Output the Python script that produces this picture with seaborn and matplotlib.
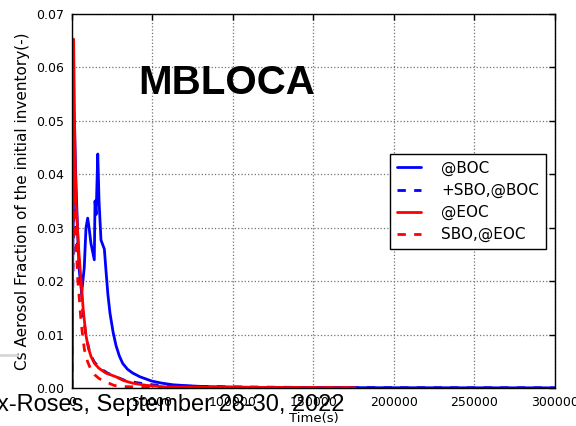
import matplotlib
matplotlib.use("Agg")
import matplotlib.pyplot as plt
from matplotlib.lines import Line2D
import seaborn as sns
import pandas as pd

# Time (s) and Cs aerosol fraction for each case
t_boc = [0, 300, 1500, 2300, 3400, 4500, 6000, 7600, 8700, 9750, 10600, 11800,
         13850, 14300, 15000, 16000, 16800, 18000, 20100, 21100, 22300, 23600,
         25500, 27300, 29400, 31500, 34500, 37700, 42200, 49500, 56000, 62700,
         73000, 83700, 120000, 200000, 300000]
v_boc = [0.0, 0.020, 0.050, 0.040, 0.030, 0.022, 0.0178, 0.0225, 0.030, 0.0318,
         0.030, 0.027, 0.024, 0.035, 0.0325, 0.0438, 0.035, 0.0277, 0.026, 0.022,
         0.0175, 0.0140, 0.0105, 0.0080, 0.0060, 0.0046, 0.0035, 0.0028, 0.0021,
         0.0013, 0.0009, 0.0006, 0.0004, 0.00025, 0.0001, 0.00005, 0.00003]

t_sbo_boc = [0, 300, 1200, 2500, 3700, 5000, 6800, 8700, 11200, 14000, 17400,
             22000, 27300, 33000, 40000, 50000, 60000, 80000, 100000, 150000,
             200000, 300000]
v_sbo_boc = [0.0, 0.015, 0.037, 0.030, 0.026, 0.022, 0.0140, 0.0097, 0.0064,
             0.0048, 0.0037, 0.0028, 0.0021, 0.0014, 0.0010, 0.0006, 0.0004,
             0.0003, 0.0002, 0.0001, 0.00005, 0.00003]

t_eoc = [0, 300, 1000, 1800, 2500, 3700, 4600, 5600, 7000, 8700, 10200, 11800,
         14000, 16700, 21000, 27300, 32000, 37700, 46000, 58400, 80000, 120000,
         176000]
v_eoc = [0.0, 0.020, 0.0653, 0.045, 0.035, 0.028, 0.0240, 0.0202, 0.0145,
         0.0098, 0.0075, 0.0059, 0.0046, 0.0037, 0.0028, 0.0021, 0.0014, 0.0009,
         0.0005, 0.0002, 0.00015, 0.0001, 0.00005]

t_sbo_eoc = [0, 300, 1000, 1800, 2700, 3600, 4600, 5600, 6600, 7700, 9600,
             11800, 14000, 16700, 19500, 22900, 26000, 29000, 40000, 60000,
             120000, 176000]
v_sbo_eoc = [0.0, 0.015, 0.040, 0.033, 0.026, 0.0202, 0.0165, 0.0125, 0.0098,
             0.0072, 0.0050, 0.0034, 0.0025, 0.0018, 0.0013, 0.0009, 0.0005,
             0.0003, 0.0002, 0.0001, 0.00005, 0.00003]

labels = ["@BOC", "+SBO,@BOC", "@EOC", "SBO,@EOC"]
colors = ["blue", "blue", "red", "red"]
dashed = [False, True, False, True]

series = [(t_boc, v_boc), (t_sbo_boc, v_sbo_boc), (t_eoc, v_eoc), (t_sbo_eoc, v_sbo_eoc)]

sns.set_style("white")
plt.rcParams["font.family"] = ["DejaVu Sans"]
plt.rcParams["text.color"] = "black"
plt.rcParams["axes.labelcolor"] = "black"

fig = plt.figure(figsize=(5.76, 4.26), dpi=100)
ax = fig.add_axes([0.125, 0.0892, 0.8385, 0.8778])

handles = []
for (tt, vv), lab, col, dsh in zip(series, labels, colors, dashed):
    df = pd.DataFrame({"Time": tt, "Fraction": vv})
    ls = (0, (3, 3)) if dsh else "-"
    sns.lineplot(data=df, x="Time", y="Fraction", ax=ax, color=col,
                 linewidth=2, linestyle=ls, estimator=None, sort=False)
    handles.append(Line2D([], [], color=col, lw=2, linestyle=ls, label=lab))

ax.set_xlim(0, 300000)
ax.set_ylim(0, 0.07)
ax.set_xticks([0, 50000, 100000, 150000, 200000, 250000, 300000])
ax.set_xticklabels(["0", "50000", "100000", "150000", "200000", "250000", "300000"])
ax.set_yticks([0.0, 0.01, 0.02, 0.03, 0.04, 0.05, 0.06, 0.07])
ax.set_yticklabels(["0.00", "0.01", "0.02", "0.03", "0.04", "0.05", "0.06", "0.07"])
ax.tick_params(direction="in", length=4, width=1, top=True, right=True,
               labelsize=9, colors="black", labelcolor="black", pad=6)
ax.grid(True, color="0.45", linestyle=":", linewidth=0.9)
for s in ax.spines.values():
    s.set_color("black")
    s.set_linewidth(1.0)

ax.set_xlabel("Time(s)", fontsize=9.5, labelpad=2, color="black")
ax.set_ylabel("Cs Aerosol Fraction of the initial inventory(-)", fontsize=11,
              labelpad=4, color="black")

ax.text(0.32, 0.815, "MBLOCA", transform=ax.transAxes, ha="center", va="center",
        fontsize=29, fontweight="bold", family="Liberation Sans", color="black")

leg = ax.legend(handles=handles, loc="upper left", bbox_to_anchor=(0.658, 0.626),
                borderaxespad=0, fontsize=11, frameon=True, fancybox=False,
                framealpha=1, edgecolor="black", handlelength=1.6,
                handletextpad=1.3, labelspacing=0.45, borderpad=0.45)
leg.get_frame().set_linewidth(1.0)
for txt in leg.get_texts():
    txt.set_color("black")

# slide footer overlay
fig.add_artist(Line2D([0, 17 / 576], [1 - 355 / 426, 1 - 355 / 426],
                      transform=fig.transFigure, color="#d6d6d6", lw=2))
fig.text(-0.006, 1 - 411 / 426, "x-Roses, September 28-30, 2022", fontsize=17,
         family="Liberation Sans", color="black", ha="left", va="baseline")

fig.savefig("out.png", dpi=100)
